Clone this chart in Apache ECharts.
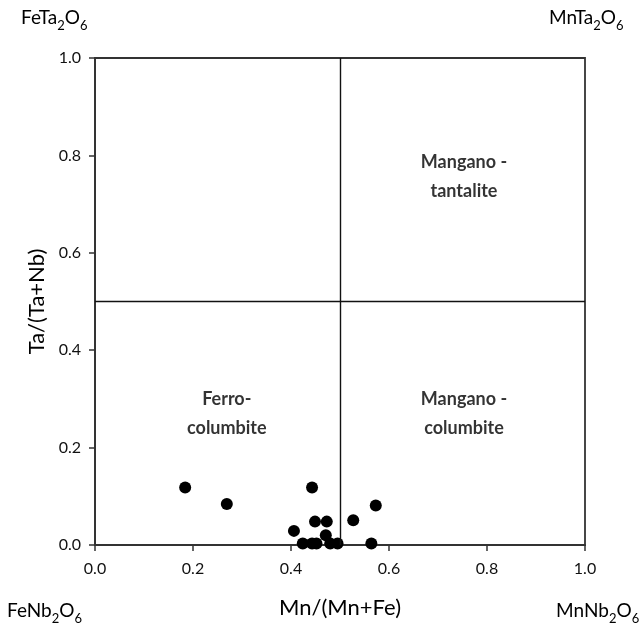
<!DOCTYPE html>
<html><head><meta charset="utf-8">
<script src="https://cdn.jsdelivr.net/npm/echarts@6/dist/echarts.min.js"></script>
<style>html,body{margin:0;padding:0;background:#fff}#c{width:644px;height:634px}</style>
</head><body><div id="c"></div>
<script>
var mnRatio = [0.184, 0.269, 0.443, 0.406, 0.449, 0.473, 0.471, 0.527, 0.573, 0.424, 0.443, 0.452, 0.480, 0.495, 0.564];
var taRatio = [0.118, 0.084, 0.118, 0.029, 0.048, 0.048, 0.020, 0.051, 0.081, 0.003, 0.003, 0.003, 0.003, 0.003, 0.003];
var tickLabels = ['0.0', '0.2', '0.4', '0.6', '0.8', '1.0'];
var fieldNames = ['Mangano -\ntantalite', 'Ferro-\ncolumbite', 'Mangano -\ncolumbite'];
var fieldX = [0.753, 0.269, 0.753];
var fieldY = [0.756, 0.269, 0.269];
var endMembers = [
  {txt: '{n|FeTa}{s|2}{n|O}{s|6}', pos: 'tl'},
  {txt: '{n|MnTa}{s|2}{n|O}{s|6}', pos: 'tr'},
  {txt: '{n|FeNb}{s|2}{n|O}{s|6}', pos: 'bl'},
  {txt: '{n|MnNb}{s|2}{n|O}{s|6}', pos: 'br'}
];
var FONT = 'Lato, "Open Sans", sans-serif';
var axisCol = '#333';
var chart = echarts.init(document.getElementById('c'));
var rich = {
  n: {fontSize: 19, fontFamily: FONT, color: '#000', lineHeight: 24, verticalAlign: 'bottom'},
  s: {fontSize: 13, fontFamily: FONT, color: '#000', lineHeight: 24, verticalAlign: 'bottom', padding: [0, 0, -5, 0]}
};
var posMap = {tl: {left: 21, top: 8}, tr: {left: 549, top: 8}, bl: {left: 7, top: 601}, br: {left: 556, top: 601}};
var graphics = endMembers.map(function (e) {
  var p = posMap[e.pos];
  return {type: 'text', left: p.left, top: p.top, style: {text: e.txt, rich: rich}};
});
function axisCommon(name) {
  return {
    type: 'value', min: 0, max: 1, interval: 0.2,
    name: name, nameLocation: 'middle',
    nameTextStyle: {fontSize: 22, fontFamily: FONT, color: '#000'},
    axisLine: {show: true, onZero: false, lineStyle: {color: axisCol, width: 1.8}},
    axisTick: {show: true, inside: false, length: 6, lineStyle: {color: axisCol, width: 1.5}},
    axisLabel: {fontSize: 16, fontFamily: FONT, color: '#111', formatter: function (v) { return tickLabels[Math.round(v / 0.2)]; }},
    splitLine: {show: false}
  };
}
var xa = axisCommon('Mn/(Mn+Fe)'); xa.nameGap = 52; xa.axisLabel.margin = 16;
var ya = axisCommon('Ta/(Ta+Nb)'); ya.nameGap = 46; ya.axisLabel.margin = 14;
chart.setOption({
  animation: false,
  grid: {left: 95, right: 59, top: 58, bottom: 89, show: true, borderColor: axisCol, borderWidth: 1.8},
  xAxis: xa,
  yAxis: ya,
  graphic: graphics,
  series: [
    {
      type: 'scatter', symbolSize: 12, itemStyle: {color: '#000', opacity: 1},
      data: mnRatio.map(function (x, i) { return [x, taRatio[i]]; }),
      markLine: {
        silent: true, symbol: 'none', label: {show: false},
        lineStyle: {color: '#111', width: 1.4, type: 'solid'},
        data: [{xAxis: 0.5}, {yAxis: 0.5}]
      },
      z: 3
    },
    {
      type: 'scatter', symbolSize: 0, silent: true,
      data: fieldNames.map(function (n, i) { return {value: [fieldX[i], fieldY[i]], name: n}; }),
      label: {show: true, position: 'inside', formatter: '{b}', fontSize: 18, fontWeight: 'bold', fontFamily: FONT, color: '#000', lineHeight: 29, align: 'center'}
    }
  ]
});
</script></body></html>
